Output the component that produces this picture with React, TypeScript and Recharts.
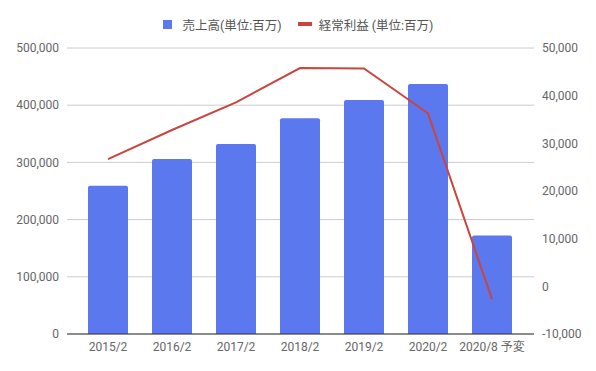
import { ComposedChart, Bar, Line, XAxis, YAxis, CartesianGrid, Legend } from 'recharts';

const categories = ['2015/2', '2016/2', '2017/2', '2018/2', '2019/2', '2020/2', '2020/8 予変'];
const sales = [259000, 306000, 332000, 377000, 409000, 437000, 172000];
const ordinaryProfit = [26700, 32800, 38600, 45800, 45700, 36300, -2700];
const leftTicks = [0, 100000, 200000, 300000, 400000, 500000];
const rightTicks = [-10000, 0, 10000, 20000, 30000, 40000, 50000];

const salesName = '売上高(単位:百万)';
const profitName = '経常利益 (単位:百万)';

const barColor = '#5b78ef';
const lineColor = '#c9453d';

const data = categories.map((name, i) => ({ name, sales: sales[i], profit: ordinaryProfit[i] }));

const fmt = (v: number) => v.toLocaleString('en-US');

const LegendContent = () => (
    <div style={{ height: 28, display: 'flex', justifyContent: 'center', alignItems: 'center', fontSize: 12.5, color: '#555', fontFamily: 'Roboto, "Noto Sans CJK JP", sans-serif' }}>
        <span style={{ display: 'inline-block', width: 9, height: 9, background: barColor, marginRight: 11 }} />
        <span>{salesName}</span>
        <span style={{ display: 'inline-block', width: 14, height: 4, background: lineColor, marginLeft: 16, marginRight: 7 }} />
        <span>{profitName}</span>
    </div>
);

const App = () => {
    return (
        <div style={{ position: 'absolute', left: 0, top: 0, width: 596, height: 371, background: '#fff', fontFamily: 'Roboto, "Noto Sans CJK JP", sans-serif' }}>
            <ComposedChart width={596} height={371} data={data} margin={{ top: 20, right: 0, bottom: 7, left: 0 }}>
                <CartesianGrid vertical={false} stroke="#cccccc" yAxisId="left" />
                <XAxis
                    dataKey="name"
                    tickLine={false}
                    axisLine={{ stroke: '#333' }}
                    tick={{ fill: '#666', fontSize: 12 }}
                    height={30}
                    interval={0}
                    padding={{ left: 9, right: 10 }}
                />
                <YAxis
                    yAxisId="left"
                    orientation="left"
                    width={67}
                    domain={[0, 500000]}
                    ticks={leftTicks}
                    tickFormatter={fmt}
                    axisLine={false}
                    tickLine={false}
                    tick={{ fill: '#666', fontSize: 12 }}
                />
                <YAxis
                    yAxisId="right"
                    orientation="right"
                    width={62}
                    domain={[-10000, 50000]}
                    ticks={rightTicks}
                    tickFormatter={fmt}
                    axisLine={false}
                    tickLine={false}
                    tick={{ fill: '#666', fontSize: 12 }}
                />
                <Legend verticalAlign="top" align="center" content={<LegendContent />} wrapperStyle={{ top: 10 }} />
                <Bar yAxisId="left" dataKey="sales" name={salesName} fill={barColor} barSize={40} radius={[2, 2, 0, 0]} isAnimationActive={false} />
                <Line yAxisId="right" dataKey="profit" name={profitName} type="linear" stroke={lineColor} strokeWidth={2} dot={false} isAnimationActive={false} />
            </ComposedChart>
        </div>
    );
};

export default App;
